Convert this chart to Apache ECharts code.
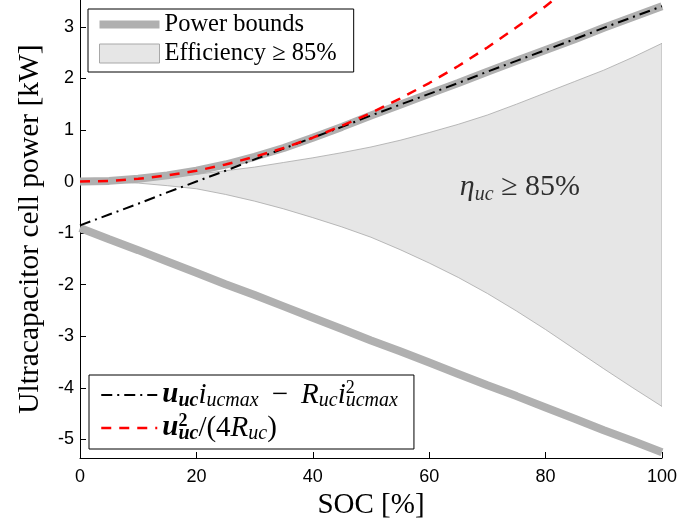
<!DOCTYPE html>
<html><head><meta charset="utf-8">
<script src="https://cdn.jsdelivr.net/npm/echarts@6/dist/echarts.min.js"></script>
<style>html,body{margin:0;padding:0;background:#fff}#c{width:680px;height:527px}</style>
</head><body><div id="c"></div>
<script>
// ---- data ----
const soc = [0,5,10,15,20,25,30,35,40,45,50,55,60,65,70,75,80,85,90,95,100];
const boundUpper = [0,0.013,0.053,0.12,0.21,0.33,0.48,0.65,0.85,1.06,1.28,1.49,1.70,1.91,2.13,2.34,2.55,2.76,2.98,3.19,3.40];
const boundLower = [-0.90,-1.12,-1.33,-1.55,-1.77,-1.99,-2.20,-2.42,-2.64,-2.86,-3.08,-3.29,-3.51,-3.73,-3.95,-4.16,-4.38,-4.60,-4.82,-5.03,-5.25];
const uImaxLine = [-0.85,-0.64,-0.43,-0.21,0.00,0.21,0.43,0.64,0.85,1.06,1.28,1.49,1.70,1.91,2.13,2.34,2.55,2.76,2.98,3.19,3.40];
const socRed = [0,5,10,15,20,25,30,35,40,45,50,55,60,65,70,75,80,85];
const u2Line = [0,0.013,0.053,0.12,0.21,0.33,0.48,0.65,0.85,1.08,1.33,1.61,1.91,2.24,2.60,2.99,3.40,3.84];
const effUpper = [0,0.01,0.04,0.08,0.14,0.21,0.28,0.37,0.46,0.56,0.67,0.80,0.95,1.11,1.29,1.50,1.72,1.94,2.16,2.41,2.68];
const effLower = [0,-0.01,-0.03,-0.08,-0.14,-0.25,-0.38,-0.53,-0.70,-0.88,-1.08,-1.32,-1.58,-1.86,-2.17,-2.51,-2.87,-3.25,-3.63,-4.00,-4.36];
const xTicks = [0,20,40,60,80,100];
const yTicks = [-5,-4,-3,-2,-1,0,1,2,3];
const annotationPos = [75.6, -0.1];

const pair = (xs, ys) => ys.map((y, i) => [xs[i], y]);

const GRAY = '#b0b0b0', SHADE = '#e6e6e6', EDGE = '#a8a8a8';
const serif = 'Liberation Serif', sans = 'Liberation Sans';

const chart = echarts.init(document.getElementById('c'));
const LH = 32;
const richMath = {
  rm: {fontFamily: serif, fontSize: 29, color: '#000', lineHeight: LH},
  it: {fontFamily: serif, fontSize: 29, fontStyle: 'italic', color: '#000', lineHeight: LH},
  bu: {fontFamily: serif, fontSize: 29, fontStyle: 'italic', fontWeight: 'bold', color: '#000', lineHeight: LH},
  bs: {fontFamily: serif, fontSize: 20, fontStyle: 'italic', fontWeight: 'bold', color: '#000', verticalAlign: 'bottom'},
  bsup: {fontFamily: serif, fontSize: 18, fontWeight: 'bold', color: '#000', verticalAlign: 'top', width: 0},
  sub: {fontFamily: serif, fontSize: 20, fontStyle: 'italic', color: '#000', verticalAlign: 'bottom'},
  sup: {fontFamily: serif, fontSize: 18, color: '#000', verticalAlign: 'top', width: 0}
};
const legendLabels = {
  'uimax': '{bu|u}{bs|uc}{it|i}{sub|ucmax}{rm|\u00a0\u2009−\u2009\u00a0}{it|R}{sub|uc}{it|i}{sup|2}{sub|ucmax}',
  'u2': '{bu|u}{bsup|2}{bs|uc}{rm|/(4}{it|R}{sub|uc}{rm|)}'
};
const hiddenMarker = {color: 'rgba(0,0,0,0)', borderWidth: 0, opacity: 0};

const option = {
  animation: false,
  grid: {left: 80, right: 18, top: 0, bottom: 69},
  xAxis: {
    type: 'value', min: 0, max: 100, interval: 20,
    axisLine: {onZero: false, lineStyle: {color: '#000', width: 1}},
    axisTick: {inside: true, length: 6, lineStyle: {color: '#000'}, customValues: xTicks},
    axisLabel: {color: '#000', fontFamily: sans, fontSize: 18, margin: 10, customValues: xTicks},
    splitLine: {show: false},
    name: 'SOC [%]', nameLocation: 'middle', nameGap: 33,
    nameTextStyle: {fontFamily: serif, fontSize: 29, color: '#000'}
  },
  yAxis: {
    type: 'value', min: -5.36, max: 3.52,
    axisLine: {show: true, onZero: false, lineStyle: {color: '#000', width: 1}},
    axisTick: {show: true, inside: true, length: 6, lineStyle: {color: '#000'}, customValues: yTicks},
    axisLabel: {color: '#000', fontFamily: sans, fontSize: 18, margin: 6, customValues: yTicks},
    splitLine: {show: false},
    name: 'Ultracapacitor cell power [kW]', nameLocation: 'middle', nameGap: 35,
    nameTextStyle: {fontFamily: serif, fontSize: 29.5, color: '#000'}
  },
  legend: [
    {
      orient: 'vertical', left: 88, top: 9,
      padding: [3, 17, 6, 11], itemGap: 4, itemWidth: 60, itemHeight: 19,
      borderColor: '#000', borderWidth: 1, backgroundColor: '#fff',
      selectedMode: false,
      textStyle: {fontFamily: serif, fontSize: 24.5, color: '#000'},
      data: [
        {name: 'Power bounds', icon: 'path://M0,0H60V8H0Z', itemStyle: {color: GRAY, borderWidth: 0}},
        {name: 'Efficiency ≥ 85%', icon: 'rect', itemStyle: {color: SHADE, borderColor: EDGE, borderWidth: 1}}
      ]
    },
    {
      orient: 'vertical', left: 89, top: 375,
      padding: [4, 16, 5, 11], itemGap: 1, itemWidth: 56, itemHeight: 19,
      borderColor: '#000', borderWidth: 1, backgroundColor: '#fff',
      selectedMode: false,
      formatter: n => legendLabels[n],
      textStyle: {rich: richMath},
      data: [
        {name: 'uimax', lineStyle: {width: 2}, itemStyle: hiddenMarker},
        {name: 'u2', lineStyle: {width: 2.5}, itemStyle: hiddenMarker}
      ]
    }
  ],
  series: [
    {
      name: 'Efficiency ≥ 85%', type: 'custom', silent: true, clip: true, z: 1,
      data: [[soc[0], effUpper[0]]],
      renderItem: (params, api) => {
        const up = soc.map((x, i) => api.coord([x, effUpper[i]]));
        const lo = soc.map((x, i) => api.coord([x, effLower[i]])).reverse();
        return {
          type: 'polygon',
          shape: {points: up.concat(lo)},
          style: {fill: SHADE, stroke: EDGE, lineWidth: 0.8}
        };
      }
    },
    {
      name: 'Power bounds', type: 'line', symbol: 'none', silent: true,
      data: pair(soc, boundUpper), lineStyle: {color: GRAY, width: 8}, itemStyle: {color: GRAY}, z: 2
    },
    {
      name: 'Power bounds', type: 'line', symbol: 'none', silent: true,
      data: pair(soc, boundLower), lineStyle: {color: GRAY, width: 8}, itemStyle: {color: GRAY}, z: 2
    },
    {
      name: 'uimax', type: 'line', symbol: 'none', silent: true,
      data: pair(soc, uImaxLine),
      lineStyle: {color: '#000', width: 2, type: [11, 5, 2, 5]}, itemStyle: {color: '#000'}, z: 3
    },
    {
      name: 'u2', type: 'line', symbol: 'none', silent: true, clip: true,
      data: pair(socRed, u2Line),
      lineStyle: {color: '#ff0000', width: 2.5, type: [10, 8]}, itemStyle: {color: '#ff0000'}, z: 4
    },
    {
      name: 'annotation', type: 'scatter', symbolSize: 0, silent: true,
      data: [annotationPos],
      label: {
        show: true, position: 'inside', color: '#000', textBorderWidth: 0,
        formatter: '{eta|η}{sub|uc}{rm| ≥ 85%}',
        rich: {
          eta: {fontFamily: serif, fontSize: 30, fontStyle: 'italic', color: '#000', lineHeight: 36},
          sub: {fontFamily: serif, fontSize: 20, fontStyle: 'italic', color: '#000', verticalAlign: 'bottom'},
          rm: {fontFamily: serif, fontSize: 30, color: '#000', lineHeight: 36}
        }
      }, z: 5
    }
  ]
};
chart.setOption(option);
</script>
</body></html>
